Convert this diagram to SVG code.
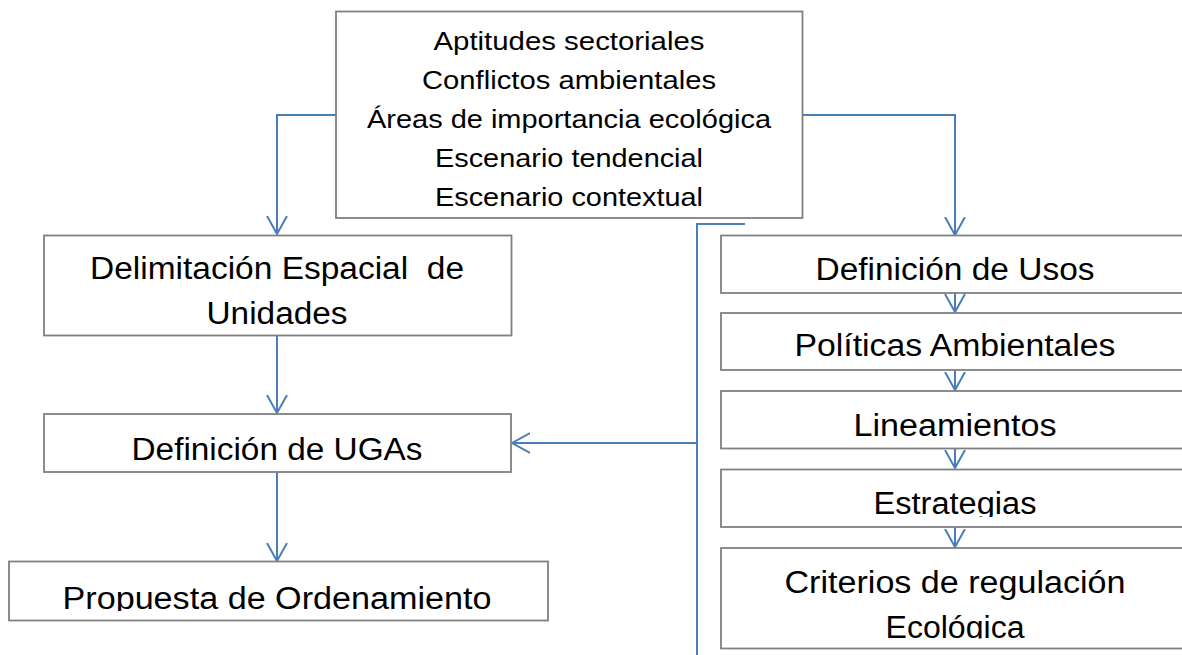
<svg xmlns="http://www.w3.org/2000/svg" width="1182" height="655" viewBox="0 0 1182 655">
<style>
.box{fill:#ffffff;stroke:#808080;stroke-width:1.8}
.con{fill:none;stroke:#4a7ebb;stroke-width:2}
.t{font-family:"Liberation Sans",Arial,sans-serif;fill:#000000;text-anchor:middle}
.s{font-size:25.5px}
.b{font-size:31px}
.pre{white-space:pre}
</style>
<defs>
<marker id="arr" viewBox="0 0 20 22" refX="18" refY="11" markerWidth="20" markerHeight="22" markerUnits="userSpaceOnUse" orient="auto">
<path d="M0,1 L18,11 L0,21" fill="none" stroke="#4a7ebb" stroke-width="2"/>
</marker>
<clipPath id="clipEst"><rect x="721" y="470" width="470" height="47"/></clipPath>
<clipPath id="clipEco"><rect x="721" y="548" width="470" height="90.5"/></clipPath>
<clipPath id="clipProp"><rect x="9" y="561" width="539" height="50"/></clipPath>
</defs>
<rect width="1182" height="655" fill="#ffffff"/>
<g id="connectors">
<path class="con" d="M336,115 H277 V234" marker-end="url(#arr)"/>
<path class="con" d="M803,115 H955 V235" marker-end="url(#arr)"/>
<path class="con" d="M277,336 V413" marker-end="url(#arr)"/>
<path class="con" d="M277,472 V561" marker-end="url(#arr)"/>
<path class="con" d="M745,224 H697 V655"/>
<path class="con" d="M697,443 H512" marker-end="url(#arr)"/>
<path class="con" d="M955,293 V312" marker-end="url(#arr)"/>
<path class="con" d="M955,370 V390" marker-end="url(#arr)"/>
<path class="con" d="M955,448 V468" marker-end="url(#arr)"/>
<path class="con" d="M955,527 V547" marker-end="url(#arr)"/>
</g>
<g id="top">
<rect class="box" x="336" y="11.5" width="466.5" height="206.5"/>
<text class="t s" x="569" y="50" textLength="271" lengthAdjust="spacingAndGlyphs">Aptitudes sectoriales</text>
<text class="t s" x="569" y="89" textLength="294" lengthAdjust="spacingAndGlyphs">Conflictos ambientales</text>
<text class="t s" x="569" y="128" textLength="404" lengthAdjust="spacingAndGlyphs">Áreas de importancia ecológica</text>
<text class="t s" x="569" y="167" textLength="268" lengthAdjust="spacingAndGlyphs">Escenario tendencial</text>
<text class="t s" x="569" y="206" textLength="268" lengthAdjust="spacingAndGlyphs">Escenario contextual</text>
</g>
<g id="delimitacion">
<rect class="box" x="44" y="235.5" width="467.5" height="100"/>
<text class="t b pre" x="277" y="279" textLength="374" lengthAdjust="spacingAndGlyphs" xml:space="preserve">Delimitación Espacial  de</text>
<text class="t b" x="277" y="324" textLength="141" lengthAdjust="spacingAndGlyphs">Unidades</text>
</g>
<g id="ugas">
<rect class="box" x="44" y="414" width="467" height="58"/>
<text class="t b" x="277" y="460" textLength="291" lengthAdjust="spacingAndGlyphs">Definición de UGAs</text>
</g>
<g id="propuesta">
<rect class="box" x="9" y="561.5" width="539" height="59"/>
<text class="t b" x="277" y="609" textLength="429" lengthAdjust="spacingAndGlyphs" clip-path="url(#clipProp)">Propuesta de Ordenamiento</text>
</g>
<g id="usos">
<rect class="box" x="721" y="235.5" width="470" height="57.5"/>
<text class="t b" x="955" y="280" textLength="279" lengthAdjust="spacingAndGlyphs">Definición de Usos</text>
</g>
<g id="politicas">
<rect class="box" x="721" y="313" width="470" height="57"/>
<text class="t b" x="955" y="356" textLength="321" lengthAdjust="spacingAndGlyphs">Políticas Ambientales</text>
</g>
<g id="lineamientos">
<rect class="box" x="721" y="391" width="470" height="57.5"/>
<text class="t b" x="955" y="436" textLength="203" lengthAdjust="spacingAndGlyphs">Lineamientos</text>
</g>
<g id="estrategias">
<rect class="box" x="721" y="469.5" width="470" height="57.5"/>
<text class="t b" x="955" y="514" textLength="163" lengthAdjust="spacingAndGlyphs" clip-path="url(#clipEst)">Estrategias</text>
</g>
<g id="criterios">
<rect class="box" x="721" y="548" width="470" height="100.5"/>
<text class="t b" x="955" y="592.5" textLength="341" lengthAdjust="spacingAndGlyphs">Criterios de regulación</text>
<text class="t b" x="955" y="637.5" textLength="139" lengthAdjust="spacingAndGlyphs" clip-path="url(#clipEco)">Ecológica</text>
</g>
</svg>
